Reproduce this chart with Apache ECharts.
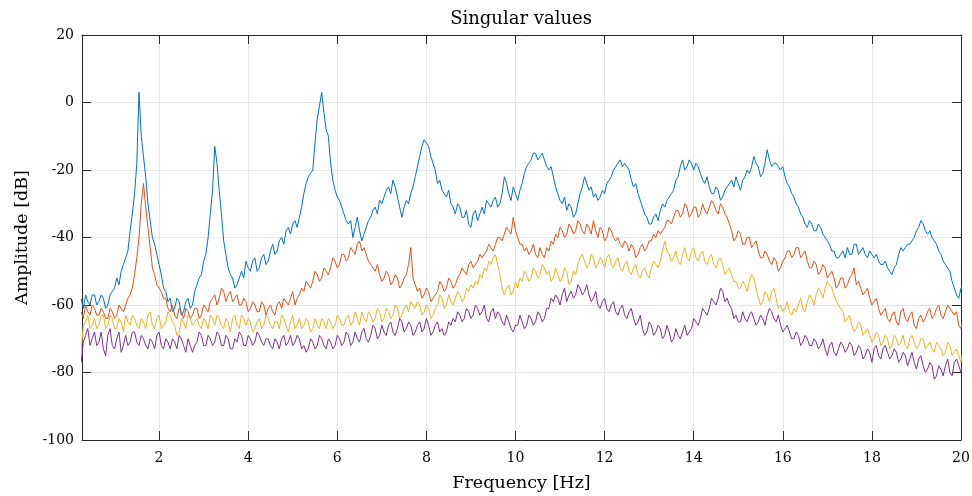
<!DOCTYPE html>
<html>
<head>
<meta charset="utf-8">
<script src="https://cdn.jsdelivr.net/npm/echarts@6/dist/echarts.min.js"></script>
<style>
  html, body { margin: 0; padding: 0; background: #fff; }
  #main { width: 972px; height: 496px; }
</style>
</head>
<body>
<div id="main"></div>
<script>
// frequency grid: first sample and spacing [Hz]
const freqStart = 0.25;
const freqStep = 0.05;

// singular values [dB], one row per 1 Hz (row k starts at k + 0.25 Hz)
const sv1 = [
  -58, -61, -57, -59, -60, -57, -57, -60, -59, -57, -58, -61, -60, -57, -56, -55, -52, -54, -50, -48,
  -46, -44, -38, -33, -27, -18, 3, -10, -16, -22, -30, -35, -40, -42, -45, -48, -51, -55, -56, -59,
  -58, -62, -61, -58, -59, -63, -62, -59, -58, -61, -60, -56, -54, -52, -51, -47, -45, -40, -33, -26,
  -13, -18, -26, -33, -41, -45, -49, -51, -52, -55, -54, -52, -50, -52, -47, -49, -50, -47, -46, -50,
  -49, -46, -45, -48, -47, -44, -42, -45, -44, -41, -40, -42, -38, -37, -39, -36, -35, -37, -34, -31,
  -27, -24, -22, -21, -20, -12, -5, -1, 3, -3, -8, -10, -18, -23, -26, -28, -29, -31, -33, -35,
  -36, -35, -40, -37, -34, -38, -41, -39, -37, -35, -34, -32, -31, -33, -29, -30, -28, -26, -25, -27,
  -23, -25, -28, -31, -34, -31, -29, -30, -27, -25, -22, -19, -16, -13, -11, -12, -13, -16, -18, -20,
  -24, -23, -26, -27, -28, -26, -30, -31, -33, -30, -31, -34, -34, -32, -36, -37, -33, -32, -35, -33,
  -31, -33, -29, -30, -31, -29, -28, -31, -30, -27, -22, -24, -27, -29, -25, -27, -29, -26, -24, -21,
  -19, -18, -17, -15, -15, -17, -16, -15, -17, -19, -20, -19, -22, -25, -27, -29, -30, -28, -32, -30,
  -31, -34, -33, -30, -27, -25, -22, -24, -26, -25, -28, -27, -29, -28, -26, -27, -24, -23, -22, -20,
  -19, -18, -17, -19, -18, -19, -20, -23, -25, -24, -27, -29, -31, -33, -34, -36, -36, -34, -33, -35,
  -32, -30, -31, -29, -28, -27, -26, -23, -22, -19, -17, -20, -19, -17, -18, -20, -18, -19, -21, -23,
  -24, -22, -25, -27, -27, -25, -26, -29, -28, -26, -25, -24, -23, -25, -22, -24, -26, -23, -22, -20,
  -21, -19, -16, -18, -19, -22, -21, -18, -14, -17, -19, -18, -18, -19, -20, -19, -22, -24, -25, -27,
  -28, -30, -31, -33, -34, -36, -37, -35, -36, -38, -38, -36, -37, -39, -40, -41, -42, -44, -44, -46,
  -46, -45, -44, -46, -43, -45, -45, -42, -42, -45, -44, -43, -45, -46, -44, -45, -46, -45, -47, -48,
  -48, -47, -49, -50, -51, -49, -48, -45, -43, -44, -43, -42, -42, -41, -40, -38, -37, -35, -36, -38,
  -39, -38, -40, -41, -42, -44, -45, -47, -48, -49, -50, -53, -55, -57, -58, -55, -54
];
const sv2 = [
  -62, -64, -60, -62, -63, -60, -61, -63, -63, -61, -62, -64, -64, -61, -62, -64, -63, -60, -61, -62,
  -60, -58, -57, -55, -51, -46, -40, -30, -24, -31, -37, -43, -49, -51, -54, -55, -56, -58, -58, -61,
  -62, -60, -63, -64, -61, -62, -64, -61, -62, -64, -63, -61, -61, -64, -63, -60, -61, -62, -59, -58,
  -57, -60, -58, -55, -56, -59, -57, -56, -59, -58, -57, -60, -60, -58, -59, -62, -61, -59, -60, -62,
  -62, -59, -60, -63, -61, -60, -62, -63, -60, -59, -61, -58, -59, -60, -58, -56, -60, -58, -57, -55,
  -56, -53, -54, -55, -53, -50, -51, -53, -52, -49, -50, -51, -49, -46, -47, -49, -48, -45, -45, -47,
  -46, -43, -44, -45, -42, -41, -44, -43, -45, -47, -48, -49, -50, -48, -51, -53, -52, -50, -51, -54,
  -53, -51, -52, -55, -54, -52, -51, -48, -43, -52, -54, -56, -55, -58, -57, -55, -56, -59, -58, -57,
  -56, -53, -54, -56, -55, -52, -53, -55, -54, -52, -51, -49, -50, -51, -48, -47, -49, -48, -47, -45,
  -46, -45, -44, -42, -43, -44, -42, -40, -40, -41, -39, -37, -38, -39, -34, -38, -40, -42, -42, -44,
  -43, -45, -44, -42, -45, -46, -43, -45, -46, -43, -44, -41, -42, -39, -40, -37, -38, -40, -39, -36,
  -37, -39, -38, -35, -36, -38, -39, -36, -37, -39, -35, -38, -40, -37, -38, -41, -40, -37, -38, -40,
  -41, -40, -42, -43, -41, -42, -44, -42, -43, -46, -45, -43, -42, -44, -43, -41, -41, -39, -40, -38,
  -39, -38, -37, -35, -35, -36, -34, -32, -32, -34, -33, -30, -31, -34, -33, -31, -31, -34, -33, -30,
  -32, -33, -31, -29, -30, -32, -33, -30, -31, -33, -34, -36, -38, -41, -40, -38, -39, -42, -42, -40,
  -40, -43, -42, -41, -44, -46, -46, -44, -45, -47, -48, -46, -47, -50, -49, -47, -46, -44, -44, -46,
  -45, -43, -43, -46, -45, -44, -47, -49, -49, -47, -48, -51, -50, -48, -49, -52, -51, -50, -52, -55,
  -54, -52, -52, -55, -54, -52, -51, -49, -54, -53, -55, -57, -56, -55, -58, -60, -59, -58, -61, -63,
  -62, -61, -64, -65, -63, -62, -65, -66, -62, -61, -64, -65, -63, -62, -66, -67, -64, -63, -65, -64,
  -62, -61, -64, -63, -61, -60, -63, -64, -62, -60, -61, -62, -63, -62, -66, -67, -64
];
const sv3 = [
  -74, -66, -65, -63, -67, -66, -64, -67, -66, -63, -63, -67, -66, -63, -64, -67, -67, -64, -65, -68,
  -63, -65, -66, -63, -64, -66, -67, -64, -65, -67, -63, -62, -66, -67, -64, -63, -67, -66, -65, -62,
  -63, -65, -66, -69, -68, -64, -65, -67, -63, -64, -66, -65, -64, -66, -67, -64, -65, -67, -63, -64,
  -66, -63, -64, -66, -67, -64, -65, -68, -64, -63, -66, -67, -63, -64, -66, -64, -65, -68, -67, -65,
  -64, -67, -66, -63, -64, -66, -67, -65, -65, -67, -63, -64, -66, -68, -65, -63, -67, -66, -64, -67,
  -66, -64, -65, -68, -67, -64, -66, -67, -64, -65, -67, -64, -65, -67, -66, -63, -64, -66, -66, -64,
  -63, -66, -65, -62, -64, -66, -62, -64, -65, -62, -63, -65, -64, -61, -62, -65, -64, -61, -62, -64,
  -63, -60, -61, -64, -63, -61, -60, -62, -59, -60, -61, -59, -60, -63, -62, -60, -61, -64, -63, -61,
  -60, -57, -58, -61, -60, -57, -59, -60, -58, -56, -57, -59, -58, -55, -56, -54, -55, -53, -54, -51,
  -52, -49, -50, -47, -48, -46, -45, -48, -51, -55, -57, -55, -54, -57, -56, -53, -55, -52, -53, -50,
  -51, -53, -52, -49, -50, -52, -51, -48, -49, -51, -50, -53, -52, -49, -51, -53, -52, -49, -50, -54,
  -53, -50, -51, -48, -46, -45, -47, -49, -48, -45, -46, -49, -48, -46, -47, -49, -46, -45, -48, -49,
  -47, -46, -49, -50, -48, -47, -50, -51, -49, -48, -51, -52, -50, -49, -51, -52, -49, -47, -48, -49,
  -47, -44, -41, -44, -45, -47, -46, -44, -47, -48, -45, -43, -46, -47, -44, -43, -46, -47, -45, -44,
  -47, -48, -46, -45, -48, -49, -47, -46, -48, -51, -50, -49, -51, -53, -53, -55, -55, -53, -54, -56,
  -53, -51, -52, -55, -58, -60, -59, -56, -57, -59, -56, -55, -58, -61, -60, -62, -61, -59, -62, -63,
  -61, -62, -60, -58, -61, -62, -59, -57, -58, -60, -57, -55, -56, -58, -55, -53, -54, -55, -57, -59,
  -60, -61, -62, -65, -64, -63, -66, -68, -67, -65, -66, -69, -68, -67, -69, -71, -70, -68, -69, -72,
  -71, -69, -70, -73, -72, -69, -70, -72, -71, -69, -72, -73, -70, -69, -71, -73, -72, -70, -70, -73,
  -72, -71, -73, -74, -71, -72, -73, -75, -74, -71, -72, -75, -74, -73, -75, -77, -73
];
const sv4 = [
  -77, -71, -69, -67, -72, -70, -68, -72, -71, -68, -73, -75, -69, -67, -72, -73, -70, -68, -74, -72,
  -69, -72, -71, -68, -68, -71, -72, -69, -70, -72, -73, -70, -71, -73, -69, -68, -72, -73, -70, -71,
  -73, -70, -71, -73, -69, -70, -72, -74, -70, -72, -74, -72, -71, -68, -69, -72, -72, -69, -70, -72,
  -71, -68, -69, -72, -72, -69, -70, -73, -73, -70, -71, -68, -69, -72, -72, -69, -70, -72, -71, -68,
  -69, -71, -72, -70, -70, -72, -73, -70, -71, -73, -70, -69, -72, -71, -69, -72, -71, -69, -70, -73,
  -72, -74, -73, -70, -71, -73, -72, -69, -70, -72, -73, -70, -71, -73, -72, -69, -70, -72, -71, -68,
  -69, -72, -71, -68, -70, -71, -68, -67, -70, -71, -69, -66, -67, -70, -69, -66, -68, -69, -66, -65,
  -68, -69, -67, -64, -65, -68, -67, -65, -66, -69, -68, -66, -65, -68, -67, -64, -66, -69, -68, -66,
  -65, -68, -67, -69, -68, -65, -66, -64, -65, -62, -63, -65, -64, -61, -62, -64, -63, -60, -61, -63,
  -62, -60, -64, -65, -62, -61, -64, -62, -63, -65, -66, -63, -65, -67, -68, -66, -66, -63, -65, -67,
  -66, -63, -64, -66, -65, -62, -63, -65, -64, -61, -61, -58, -59, -57, -58, -60, -57, -55, -59, -57,
  -56, -58, -57, -54, -55, -57, -56, -54, -57, -59, -58, -56, -60, -61, -59, -58, -61, -62, -60, -59,
  -62, -63, -61, -60, -63, -64, -62, -61, -64, -66, -65, -63, -67, -69, -68, -65, -66, -69, -68, -66,
  -67, -70, -69, -66, -68, -71, -70, -67, -69, -70, -68, -66, -69, -68, -67, -64, -65, -66, -64, -61,
  -62, -63, -61, -58, -59, -60, -58, -55, -56, -59, -58, -60, -61, -64, -63, -65, -65, -62, -64, -65,
  -63, -62, -64, -66, -65, -63, -64, -66, -63, -61, -62, -64, -65, -63, -66, -68, -67, -66, -68, -70,
  -70, -68, -69, -72, -71, -69, -70, -72, -72, -70, -71, -73, -72, -70, -73, -75, -72, -71, -74, -75,
  -73, -71, -72, -74, -73, -71, -72, -75, -74, -72, -73, -76, -75, -73, -74, -77, -73, -72, -75, -76,
  -73, -72, -74, -76, -75, -73, -74, -77, -76, -74, -75, -78, -76, -74, -77, -79, -76, -75, -78, -80,
  -79, -77, -78, -82, -81, -78, -79, -81, -78, -76, -80, -81, -77, -76, -78, -80, -77
];

const lineColors = ['#0072BD', '#D95319', '#EDB120', '#7E2F8E'];
const FONT = 'DejaVu Serif';

const toPairs = vals => vals.map((v, i) => [+(freqStart + i * freqStep).toFixed(2), v]);

var myChart = echarts.init(document.getElementById('main'), null, { renderer: 'canvas' });

const tickStyle = { show: true, inside: true, length: 9, lineStyle: { color: '#262626', width: 1 } };
const axisLine = { show: true, onZero: false, lineStyle: { color: '#262626', width: 1 } };

myChart.setOption({
  animation: false,
  backgroundColor: '#ffffff',
  title: {
    text: 'Singular values',
    left: 516,
    top: 5,
    textAlign: 'center',
    textStyle: { fontFamily: FONT, fontWeight: 'normal', fontSize: 18, color: '#000' },
  },
  grid: { left: 82, right: 11, top: 35, bottom: 56, containLabel: false, outerBoundsMode: 'none' },
  xAxis: [
    {
      type: 'value',
      min: 0.27,
      max: 20,
      minInterval: 2,
      maxInterval: 2,
      splitNumber: 10,
      name: 'Frequency [Hz]',
      nameLocation: 'middle',
      nameGap: 34,
      nameTextStyle: { fontFamily: FONT, fontSize: 17.5, color: '#000' },
      axisLine: axisLine,
      axisTick: tickStyle,
      axisLabel: { showMinLabel: false, margin: 11, fontFamily: FONT, fontSize: 14, color: '#000' },
      splitLine: { show: true, lineStyle: { color: '#e6e6e6', width: 1 } },
    },
    {
      type: 'value',
      position: 'top',
      min: 0.27,
      max: 20,
      minInterval: 2,
      maxInterval: 2,
      splitNumber: 10,
      axisLine: axisLine,
      axisTick: tickStyle,
      axisLabel: { show: false },
      splitLine: { show: false },
    },
  ],
  yAxis: [
    {
      type: 'value',
      min: -100,
      max: 20,
      interval: 20,
      name: 'Amplitude [dB]',
      nameLocation: 'middle',
      nameGap: 51,
      nameTextStyle: { fontFamily: FONT, fontSize: 17.5, color: '#000' },
      axisLine: axisLine,
      axisTick: tickStyle,
      axisLabel: { margin: 8, fontFamily: FONT, fontSize: 14, color: '#000' },
      splitLine: { show: true, lineStyle: { color: '#e6e6e6', width: 1 } },
    },
    {
      type: 'value',
      position: 'right',
      min: -100,
      max: 20,
      interval: 20,
      axisLine: axisLine,
      axisTick: tickStyle,
      axisLabel: { show: false },
      splitLine: { show: false },
    },
  ],
  series: [sv1, sv2, sv3, sv4].map((vals, k) => ({
    type: 'line',
    data: toPairs(vals),
    showSymbol: false,
    symbol: 'none',
    clip: true,
    lineStyle: { color: lineColors[k], width: 1 },
    itemStyle: { color: lineColors[k] },
    z: 2 + k,
  })),
});
</script>
</body>
</html>
